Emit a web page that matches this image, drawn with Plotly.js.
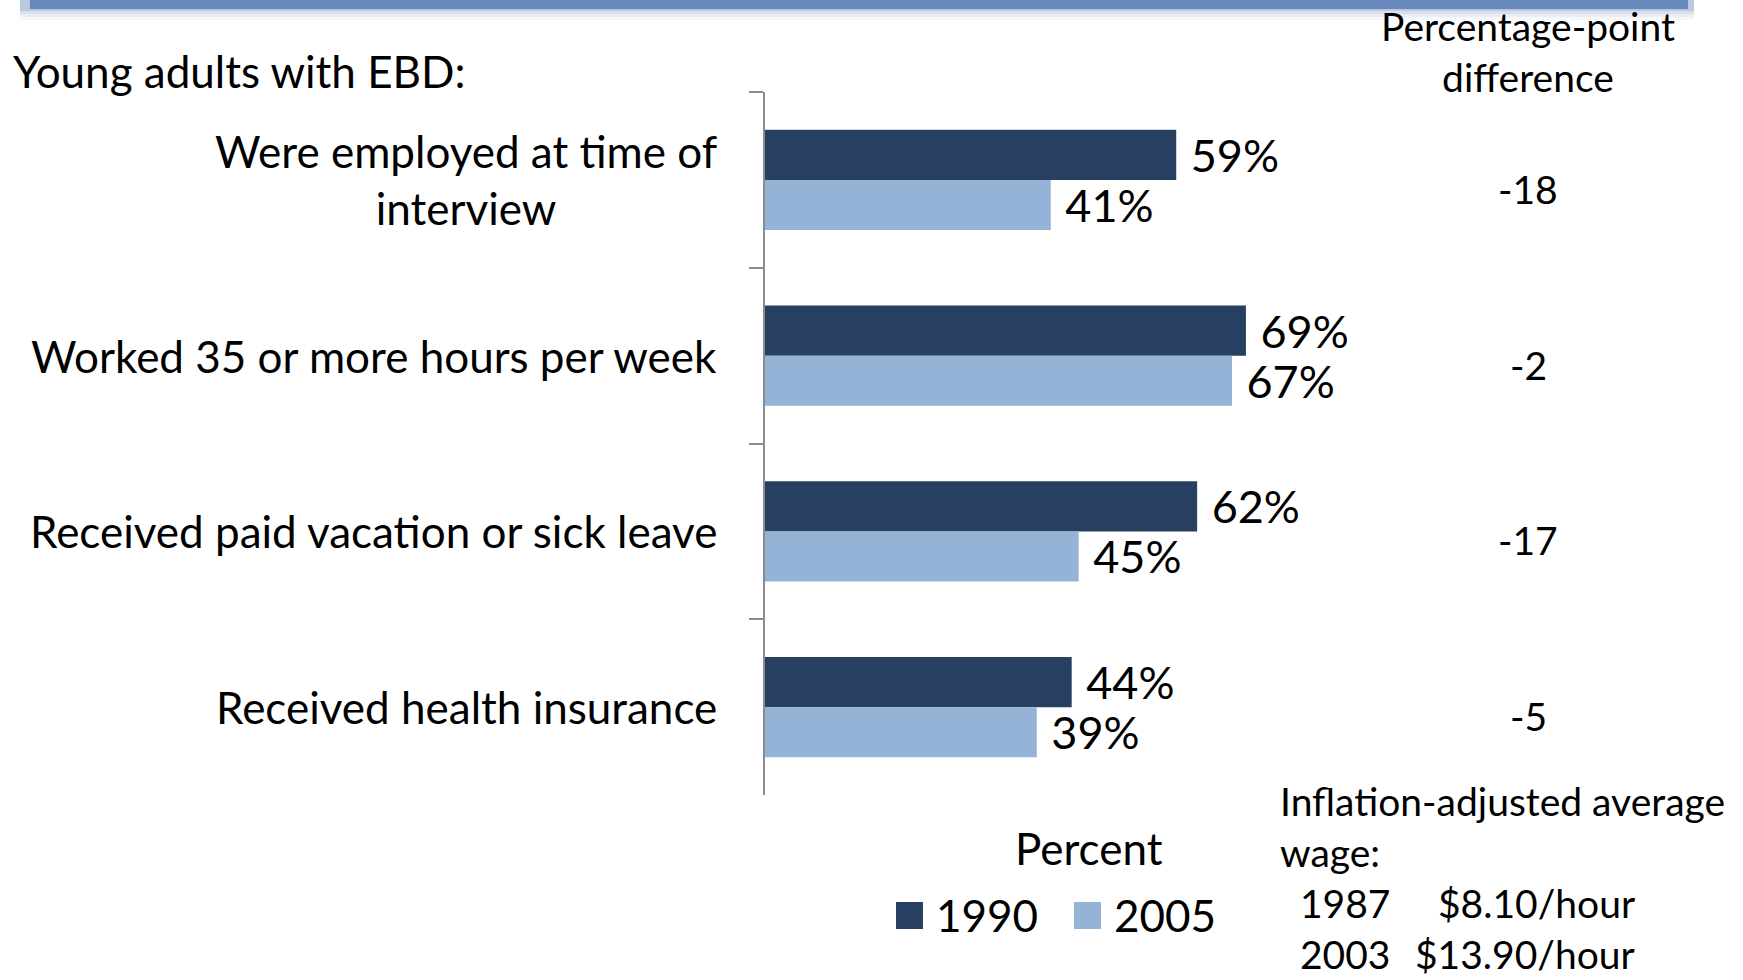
<!DOCTYPE html>
<html>
<head>
<meta charset="utf-8">
<script src="https://cdn.plot.ly/plotly-3.0.1.min.js"></script>
<style>
html,body{margin:0;padding:0;background:#fff;}
#chart{width:1743px;height:980px;}
</style>
</head>
<body>
<div id="chart"></div>
<script>
// ---- data ----
const categories = [
  "Were employed at time of<br>interview",
  "Worked 35 or more hours per week",
  "Received paid vacation or sick leave",
  "Received health insurance"
];
const seriesNames = ["1990", "2005"];
const values1990 = [59, 69, 62, 44];
const values2005 = [41, 67, 45, 39];
const ppDifference = [-18, -2, -17, -5];
const wageYears = ["1987", "2003"];
const wageValues = ["$8.10/hour", "$13.90/hour"];

// ---- geometry ----
const W = 1743, H = 980;
const L = 765, T = 92, PW = 697, PH = 703;
const R = W - L - PW, B = H - T - PH;
const px = x => (x - L) / PW;
const py = y => 1 - (y - T) / PH;

const FONT = "Lato, Carlito, Calibri, 'Open Sans', sans-serif";
const mainSize = 44, sideSize = 39;
const colors = ["#274061", "#95B3D7"];

const seriesValues = [values1990, values2005];
const traces = seriesValues.map((vals, i) => ({
  type: "bar", orientation: "h", name: seriesNames[i], y: categories, x: vals,
  marker: {color: colors[i]}, text: vals.map(v => "\u00a0" + v + "%"),
  textposition: "outside", constraintext: "none", cliponaxis: false,
  textfont: {family: FONT, size: 45, color: "#000"}, hoverinfo: "x+y"
}));

const annotations = [];
// category labels
categories.forEach(c => annotations.push({
  xref: "paper", yref: "y", x: px(719), y: c, text: c, showarrow: false,
  xanchor: "right", yanchor: "middle", align: "center",
  font: {family: FONT, size: mainSize, color: "#000"}
}));
annotations.push({xref: "paper", yref: "paper", x: px(11), y: py(71), text: "Young adults with EBD:",
  showarrow: false, xanchor: "left", yanchor: "middle", font: {family: FONT, size: mainSize, color: "#000"}});
annotations.push({xref: "paper", yref: "paper", x: px(1089), y: py(848), text: "Percent",
  showarrow: false, xanchor: "center", yanchor: "middle", font: {family: FONT, size: mainSize, color: "#000"}});
annotations.push({xref: "paper", yref: "paper", x: px(1528), y: py(52), text: "Percentage-point<br>difference",
  showarrow: false, xanchor: "center", yanchor: "middle", align: "center", font: {family: FONT, size: sideSize, color: "#000"}});
ppDifference.forEach((d, i) => annotations.push({
  xref: "paper", yref: "y", x: px(1528), y: categories[i], yshift: -9, text: String(d), showarrow: false,
  xanchor: "center", yanchor: "middle", font: {family: FONT, size: sideSize, color: "#000"}
}));
annotations.push({xref: "paper", yref: "paper", x: px(1278), y: py(826), text: "Inflation-adjusted average<br>wage:",
  showarrow: false, xanchor: "left", yanchor: "middle", align: "left", font: {family: FONT, size: sideSize, color: "#000"}});
const wageY = [903, 954];
wageYears.forEach((yr, i) => {
  annotations.push({xref: "paper", yref: "paper", x: px(1298), y: py(wageY[i]), text: yr, showarrow: false,
    xanchor: "left", yanchor: "middle", font: {family: FONT, size: sideSize, color: "#000"}});
  annotations.push({xref: "paper", yref: "paper", x: px(1637), y: py(wageY[i]), text: wageValues[i], showarrow: false,
    xanchor: "right", yanchor: "middle", font: {family: FONT, size: sideSize, color: "#000"}});
});

const shapes = [];
// legend (swatch + label) for each series
const legendX = [896, 1074];
seriesNames.forEach((n, i) => {
  shapes.push({type: "rect", xref: "paper", yref: "paper", x0: px(legendX[i]), x1: px(legendX[i] + 27),
    y0: py(929), y1: py(902), fillcolor: colors[i], line: {width: 0}});
  annotations.push({xref: "paper", yref: "paper", x: px(legendX[i] + 38), y: py(915), text: n, showarrow: false,
    xanchor: "left", yanchor: "middle", font: {family: FONT, size: mainSize, color: "#000"}});
});

// decorative header band with soft shadow
const shadowSteps = [[20, "rgba(130,160,205,0.07)"], [17, "rgba(130,160,205,0.10)"], [14, "rgba(125,155,200,0.16)"], [11, "rgba(115,145,195,0.28)"]];
shadowSteps.forEach(s => shapes.push({type: "rect", xref: "paper", yref: "paper", layer: "below",
  x0: px(20), x1: px(1694), y0: py(s[0]), y1: py(0), fillcolor: s[1], line: {width: 0}}));
shapes.push({type: "rect", xref: "paper", yref: "paper", layer: "below",
  x0: px(30), x1: px(1688), y0: py(9), y1: py(0), fillcolor: "#6887BC", line: {width: 0}});

const layout = {
  width: W, height: H,
  margin: {l: L, r: R, t: T, b: B, pad: 0},
  paper_bgcolor: "#fff", plot_bgcolor: "#fff",
  barmode: "group", bargap: 0.43, bargroupgap: 0,
  font: {family: FONT, size: mainSize, color: "#000"},
  xaxis: {range: [0, 100], showgrid: false, zeroline: false, showline: false,
          showticklabels: false, ticks: "", fixedrange: true},
  yaxis: {type: "category", autorange: "reversed", showgrid: false, zeroline: false,
          showline: true, linecolor: "#8C8C8C", linewidth: 2,
          ticks: "outside", tickson: "boundaries", ticklen: 14, tickwidth: 2, tickcolor: "#8C8C8C",
          showticklabels: false, fixedrange: true},
  showlegend: false,
  annotations: annotations,
  shapes: shapes
};

Plotly.newPlot("chart", traces, layout, {displayModeBar: false, staticPlot: true});
</script>
</body>
</html>
